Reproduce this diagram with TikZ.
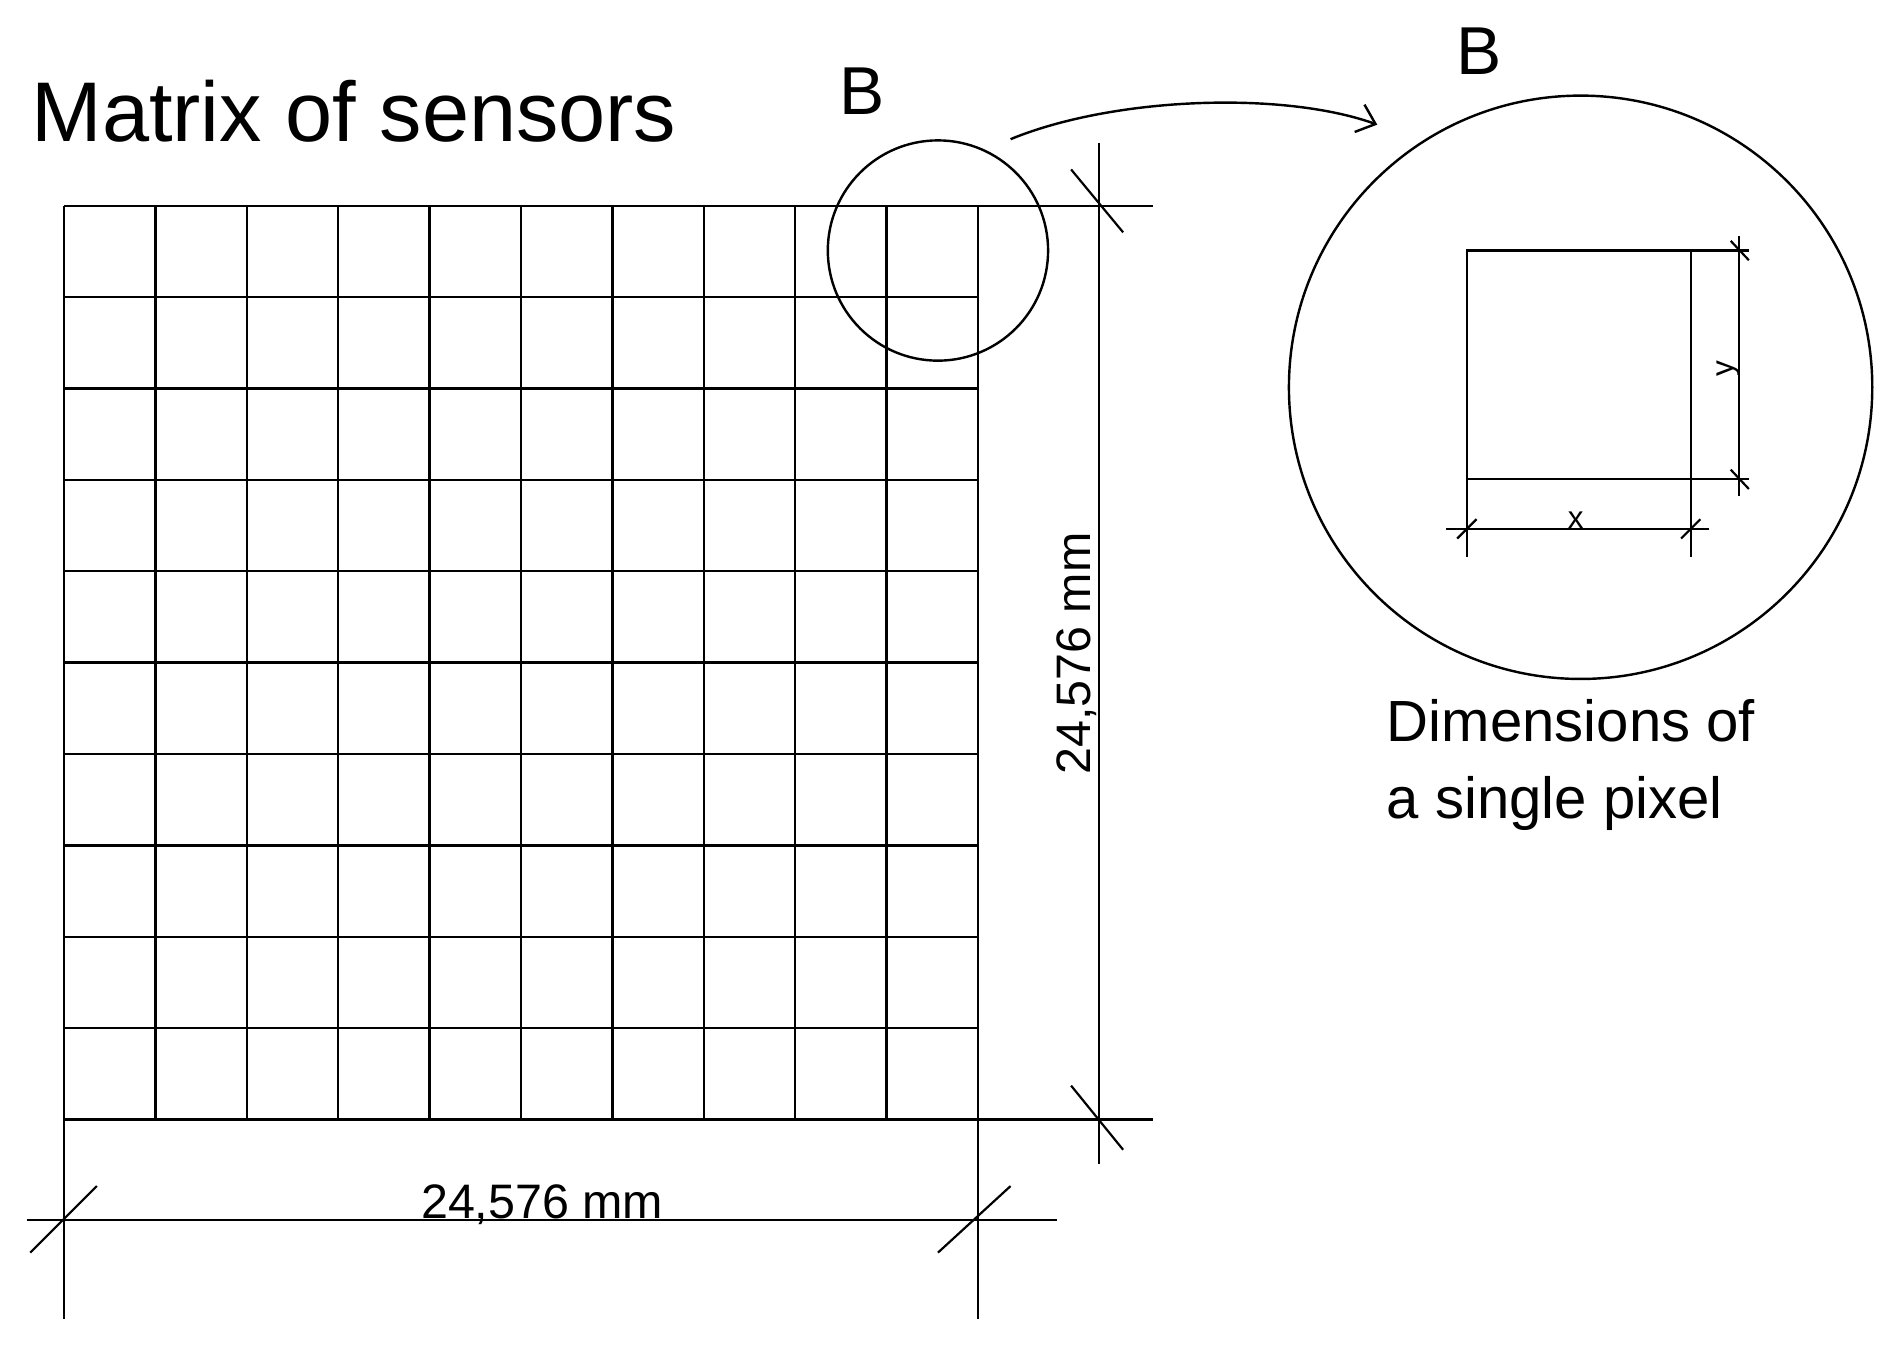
\documentclass[tikz,border=0pt]{standalone}
\usepackage{fontspec}
\setmainfont{Liberation Sans}
\usetikzlibrary{arrows.meta}
\begin{document}
\begin{tikzpicture}[x=1pt,y=-1pt,line width=2pt,
  lbl/.style={inner sep=0pt,font=\fontsize{#1}{#1}\selectfont},
  tick/.style={line width=1.8pt}]
\useasboundingbox (0,0) rectangle (1560,1121);
% grid
\foreach \i in {0,...,10}{
  \draw (53+75.5*\i,170) -- (53+75.5*\i,925);
  \draw (53,170+75.5*\i) -- (808,170+75.5*\i);
}
\node[lbl=70,anchor=base west] (title) at (25,117) {Matrix of sensors};
% right dimension
\draw (908,118) -- (908,962);
\draw (808,170) -- (953,170);
\draw (808,925) -- (953,925);
\draw[tick] (885,140) -- (928,192);
\draw[tick] (885,897) -- (928,950);
\node[lbl=40,rotate=90] (dv) at (890,540) {24,576 mm};
% bottom dimension
\draw (22,1008) -- (873,1008);
\draw (53,925) -- (53,1090);
\draw (808,925) -- (808,1090);
\draw[tick] (25,1035) -- (80,980);
\draw[tick] (775,1035) -- (835,980);
\node[lbl=40] (dh) at (448,995) {24,576 mm};
% detail circle
\node[draw,circle,minimum size=182pt,inner sep=0pt] (small) at (775,207) {};
\node[lbl=56] (B1) at (712,75) {B};
\node[draw,circle,minimum size=482pt,inner sep=0pt] (big) at (1306,320) {};
\node[lbl=56] (B2) at (1222,42) {B};
\coordinate (a1) at (835,115);
\coordinate (a2) at (1138,103);
\draw[-{Straight Barb[length=14pt,width=24pt]}] (a1) .. controls (920,80) and (1060,75) .. (a2);
% pixel
\draw (1212,396) -- (1212,207) -- (1397,207) -- (1397,396);
\draw (1212,396) -- (1445,396);
\draw (1397,207) -- (1445,207);
\draw (1437,195) -- (1437,410);
\draw[tick] (1430,199) -- (1445,215);
\draw[tick] (1430,388) -- (1445,404);
\node[lbl=26,rotate=90] (yl) at (1428,305) {y};
\draw (1195,437) -- (1412,437);
\draw (1212,396) -- (1212,460);
\draw (1397,396) -- (1397,460);
\draw[tick] (1204,445) -- (1220,429);
\draw[tick] (1389,445) -- (1405,429);
\node[lbl=26] (xl) at (1302,430) {x};
\node[lbl=48,anchor=base west] (cap) at (1145,613) {Dimensions of};
\node[lbl=48,anchor=base west] (cap2) at (1145,676) {a single pixel};
\end{tikzpicture}
\end{document}
